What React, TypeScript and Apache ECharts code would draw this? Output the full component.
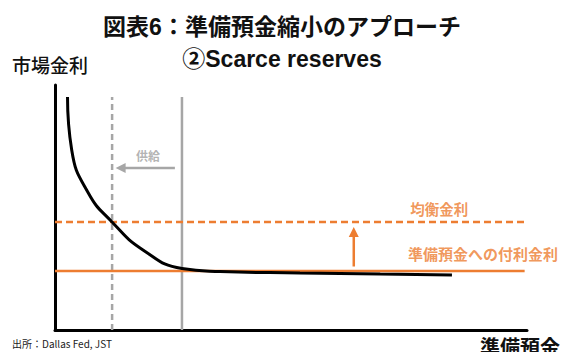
import React, { useEffect, useRef } from 'react';
import * as echarts from 'echarts';

const TITLE = '図表6：準備預金縮小のアプローチ';
const SUBTITLE = '②Scarce reserves';
const Y_NAME = '市場金利';
const X_NAME = '準備預金';
const SOURCE = '出所：Dallas Fed, JST';
const LABEL_SUPPLY = '供給';
const LABEL_EQ = '均衡金利';
const LABEL_IOR = '準備預金への付利金利';

// demand curve for reserves (reserves, market rate) in 0-100 units
const demandX = [2.65, 3.54, 7.06, 12.08, 18.64, 26.91, 34.96, 51.9, 68.9, 84.1];
const demandY = [95.1, 73.5, 55.9, 44.1, 32.7, 25.1, 23.9, 23.3, 22.9, 22.4];
const iorRate = 24.1;
const equilibriumRate = 44.1;
const rateLineEnd = 99.5;
const supplyBefore = 26.9;
const supplyAfter = 12.1;
const supplyTop = 95.1;
const supplyArrowY = 66.1;
const rateArrowX = 63.3;

const ORANGE = '#ED7D31';
const GRAY = '#A6A6A6';
const TITLE_FONT = "'Liberation Sans', 'Noto Sans CJK JP', sans-serif";
const JP_FONT = "'Noto Sans CJK JP', sans-serif";

export default function App() {
  const ref = useRef<HTMLDivElement>(null);
  useEffect(() => {
    if (!ref.current) return;
    const chart = echarts.init(ref.current, undefined, { renderer: 'svg' });
    const demand = demandX.map((x, i) => [x, demandY[i]]);
    const option: any = {
      animation: false,
      backgroundColor: '#ffffff',
      title: {
        text: TITLE + '\n' + SUBTITLE,
        left: 'center',
        top: 6,
        textStyle: { fontSize: 23, fontWeight: 'bold', color: '#111', fontFamily: TITLE_FONT, lineHeight: 32 },
      },
      grid: { left: 55, top: 85, width: 472, height: 245 },
      xAxis: {
        type: 'value', min: 0, max: 100,
        axisLine: { show: true, onZero: false, lineStyle: { color: '#000', width: 3 } },
        axisTick: { show: false }, axisLabel: { show: false }, splitLine: { show: false },
      },
      yAxis: {
        type: 'value', min: 0, max: 100,
        axisLine: { show: true, onZero: false, lineStyle: { color: '#000', width: 3 } },
        axisTick: { show: false }, axisLabel: { show: false }, splitLine: { show: false },
      },
      graphic: [
        { type: 'text', left: 12, top: 55, style: { text: Y_NAME, fontSize: 19, fontFamily: JP_FONT, fill: '#111', fontWeight: 500 } },
        { type: 'text', left: 480, top: 336, style: { text: X_NAME, fontSize: 20, fontFamily: JP_FONT, fill: '#111', fontWeight: 'bold' } },
        { type: 'text', left: 12, top: 338, style: { text: SOURCE, fontSize: 10, fontFamily: JP_FONT, fill: '#222' } },
      ],
      series: [
        {
          type: 'line', name: 'supplyAfter', data: [[supplyAfter, 0], [supplyAfter, supplyTop]],
          symbol: 'none', lineStyle: { color: GRAY, width: 2.5, type: [6, 4] }, silent: true,
        },
        {
          type: 'line', name: 'supplyBefore', data: [[supplyBefore, 0], [supplyBefore, supplyTop]],
          symbol: 'none', lineStyle: { color: GRAY, width: 2.5 }, silent: true,
        },
        {
          type: 'line', name: 'eq', data: [[0, equilibriumRate], [rateLineEnd, equilibriumRate]],
          symbol: 'none', lineStyle: { color: ORANGE, width: 2.5, type: [7, 4] }, silent: true,
        },
        {
          type: 'line', name: 'ior', data: [[0, iorRate], [rateLineEnd, iorRate]],
          symbol: 'none', lineStyle: { color: ORANGE, width: 2.5 }, silent: true,
        },
        {
          type: 'line', name: 'demand', data: demand, smooth: 0.5,
          symbol: 'none', lineStyle: { color: '#000', width: 3 }, silent: true,
        },
        {
          type: 'line', name: 'supplyArrow', silent: true, showSymbol: true,
          itemStyle: { color: GRAY }, lineStyle: { color: GRAY, width: 2.5 },
          data: [
            { value: [supplyBefore - 1.5, supplyArrowY], symbol: 'none' },
            { value: [supplyAfter + 1.8, supplyArrowY], symbol: 'triangle', symbolSize: [10, 10], symbolRotate: 90 },
          ],
        },
        {
          type: 'line', name: 'rateArrow', silent: true, showSymbol: true,
          itemStyle: { color: ORANGE }, lineStyle: { color: ORANGE, width: 2.5 },
          data: [
            { value: [rateArrowX, iorRate + 1.8], symbol: 'none' },
            { value: [rateArrowX, 40.0], symbol: 'triangle', symbolSize: [10, 10], symbolRotate: 0 },
          ],
        },
        {
          type: 'scatter', name: 'labels', symbolSize: 0, silent: true,
          label: { show: true, position: 'inside', formatter: '{b}', fontFamily: JP_FONT, fontWeight: 'bold' },
          data: [
            { name: LABEL_SUPPLY, value: [19.7, 71.4], label: { color: '#A0A0A0', fontSize: 12 } },
            { name: LABEL_EQ, value: [81.4, 49.4], label: { color: ORANGE, fontSize: 14.5 } },
            { name: LABEL_IOR, value: [90.7, 31.4], label: { color: ORANGE, fontSize: 15 } },
          ],
        },
      ],
    };
    chart.setOption(option);
    return () => chart.dispose();
  }, []);
  return <div ref={ref} style={{ position: 'fixed', left: 0, top: 0, width: 564, height: 352 }} />;
}
